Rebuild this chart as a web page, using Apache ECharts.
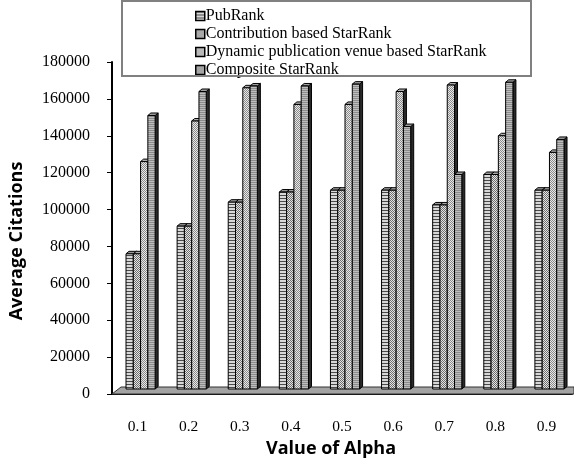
<!DOCTYPE html>
<html>
<head>
<meta charset="utf-8">
<script src="https://cdn.jsdelivr.net/npm/echarts@6/dist/echarts.min.js"></script>
<style>
  html, body { margin: 0; padding: 0; background: #fff; }
  #chart { width: 574px; height: 463px; }
</style>
</head>
<body>
<div id="chart"></div>
<script>
// Alpha values on the category axis
const alphaLabels = ['0.1', '0.2', '0.3', '0.4', '0.5', '0.6', '0.7', '0.8', '0.9'];

// Average citations per ranking method
const pubRank          = [76000, 91000, 104000, 109500, 110500, 110500, 102500, 119000, 110500];
const contributionRank = [76000, 91000, 104000, 109500, 110500, 110500, 102500, 119000, 110500];
const dynamicVenueRank = [126000, 148000, 166000, 157000, 157000, 164000, 167500, 140000, 131000];
const compositeRank    = [151000, 164000, 167000, 167000, 168000, 145000, 119000, 169000, 138000];

const seriesNames = [
  'PubRank',
  'Contribution based StarRank',
  'Dynamic publication venue based StarRank',
  'Composite StarRank'
];
const seriesValues = [pubRank, contributionRank, dynamicVenueRank, compositeRank];

const yTicks = { min: 0, max: 180000, interval: 20000 };

// Small tiled fills for the bar faces
function stripePattern(dark, light, darkRows, lightRows) {
  const c = document.createElement('canvas');
  c.width = 4; c.height = darkRows + lightRows;
  const g = c.getContext('2d');
  g.fillStyle = light; g.fillRect(0, 0, 4, c.height);
  g.fillStyle = dark; g.fillRect(0, 0, 4, darkRows);
  return { image: c, repeat: 'repeat' };
}
function checkerPattern(a, b) {
  const c = document.createElement('canvas');
  c.width = 2; c.height = 2;
  const g = c.getContext('2d');
  g.fillStyle = b; g.fillRect(0, 0, 2, 2);
  g.fillStyle = a; g.fillRect(0, 0, 1, 1); g.fillRect(1, 1, 1, 1);
  return { image: c, repeat: 'repeat' };
}

const fills = [
  stripePattern('#4a4a4a', '#d8d8d8', 1, 2),
  checkerPattern('#6e6e6e', '#e4e4e4'),
  checkerPattern('#8a8a8a', '#e8e8e8'),
  stripePattern('#8c8c8c', '#bdbdbd', 1, 1)
];
const capFills = ['#9a9a9a', '#a8a8a8', '#b0b0b0', '#a0a0a0'];

// 3D-looking column: front face, dark side face and top cap
function makeRenderer(sIdx) {
  return function (params, api) {
    const cat = api.value(0);
    const val = api.value(1);
    const base = api.coord([cat, 0]);
    const top = api.coord([cat, val]);
    const band = api.size([1, 0])[0];
    const w = band * 0.1425;
    const d = 3, dy = 2.5;
    const groupLeft = base[0] - band * 0.226;
    const x0 = groupLeft + sIdx * w;
    const yb = base[1] - 5;
    const yt = Math.min(top[1], yb);
    const outline = { stroke: '#000', lineWidth: 1 };
    return {
      type: 'group',
      children: [
        {
          type: 'polygon',
          shape: { points: [[x0 + w, yt], [x0 + w + d, yt - dy], [x0 + w + d, yb - dy], [x0 + w, yb]] },
          style: Object.assign({ fill: '#2a2a2a' }, outline)
        },
        {
          type: 'polygon',
          shape: { points: [[x0, yt], [x0 + d, yt - dy], [x0 + w + d, yt - dy], [x0 + w, yt]] },
          style: Object.assign({ fill: capFills[sIdx] }, outline)
        },
        {
          type: 'rect',
          shape: { x: x0, y: yt, width: w, height: yb - yt },
          style: Object.assign({ fill: fills[sIdx] }, outline)
        }
      ]
    };
  };
}

const chart = echarts.init(document.getElementById('chart'), null, { renderer: 'canvas' });

const serif = '"Liberation Serif", "Times New Roman", serif';
const sans = '"Open Sans", sans-serif';

chart.setOption({
  animation: false,
  backgroundColor: '#fff',
  grid: { left: 111, right: 2, top: 62, bottom: 69, containLabel: false },
  legend: {
    orient: 'vertical',
    left: 190,
    top: 3,
    itemWidth: 9,
    itemHeight: 9,
    itemGap: 2,
    icon: 'rect',
    itemStyle: { borderColor: '#000', borderWidth: 1.5 },
    textStyle: { fontFamily: serif, fontSize: 16, color: '#000', lineHeight: 16, padding: [0, 0, 0, -4] },
    data: seriesNames
  },
  xAxis: {
    type: 'category',
    data: alphaLabels,
    axisLine: { lineStyle: { color: '#000', width: 2 } },
    axisTick: { show: false },
    axisLabel: { fontFamily: serif, fontSize: 15.5, color: '#000', margin: 25 },
    name: 'Value of Alpha',
    nameLocation: 'middle',
    nameGap: 43,
    nameTextStyle: { fontFamily: sans, fontWeight: 'bold', fontSize: 18, color: '#000', padding: [0, 22, 0, 0] }
  },
  yAxis: {
    type: 'value',
    min: yTicks.min,
    max: yTicks.max,
    interval: yTicks.interval,
    axisLine: { show: true, lineStyle: { color: '#000', width: 2 } },
    axisTick: { show: true, length: 5, lineStyle: { color: '#000', width: 1 } },
    splitLine: { show: false },
    axisLabel: { fontFamily: serif, fontSize: 16, color: '#000', margin: 22, formatter: v => String(v) },
    name: 'Average Citations',
    nameLocation: 'middle',
    nameRotate: 90,
    nameGap: 86,
    nameTextStyle: { fontFamily: sans, fontWeight: 'bold', fontSize: 18, color: '#000', padding: [0, 26, 0, 0] }
  },
  graphic: [
    {
      type: 'polygon',
      z: 1,
      shape: { points: [[112, 394], [121, 387], [574, 387], [574, 394]] },
      style: { fill: '#a3a3a3', stroke: '#333', lineWidth: 1 }
    },
    {
      type: 'rect',
      z: 10,
      shape: { x: 122, y: 1, width: 409, height: 75 },
      style: { fill: 'rgba(0,0,0,0)', stroke: '#808080', lineWidth: 2 }
    }
  ],
  series: seriesValues.map((vals, s) => ({
    type: 'custom',
    name: seriesNames[s],
    coordinateSystem: 'cartesian2d',
    itemStyle: { color: fills[s], borderColor: '#000' },
    encode: { x: 0, y: 1 },
    data: vals.map((v, i) => [i, v]),
    renderItem: makeRenderer(s),
    z: 2
  }))
});
</script>
</body>
</html>
